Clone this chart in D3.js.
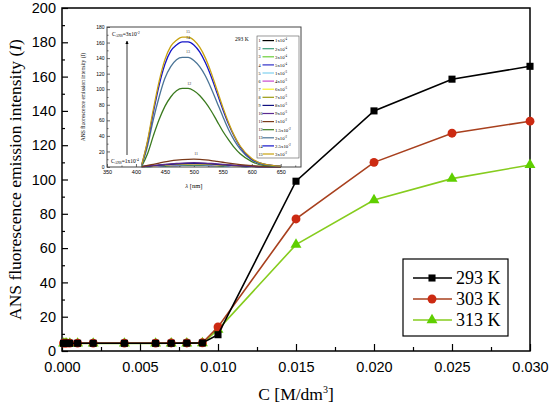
<!DOCTYPE html>
<html>
<head>
<meta charset="utf-8">
<script src="https://cdn.jsdelivr.net/npm/d3@7"></script>
<style>
  body { margin: 0; background: #fff; }
  .tick text { font-family: "Liberation Sans", Arial, sans-serif; }
</style>
</head>
<body>
<div id="chart"></div>
<script>
// ---- main chart data ----
var conc = [0.0001, 0.0002, 0.0003, 0.0005, 0.001, 0.002, 0.004, 0.006, 0.007, 0.008, 0.009, 0.010, 0.015, 0.020, 0.025, 0.030];
var temps = ["293 K", "303 K", "313 K"];
var int293 = [4.5, 4.5, 4.5, 4.5, 4.5, 4.5, 4.5, 4.5, 4.5, 4.6, 4.7, 9.5, 99, 140, 158.5, 166];
var int303 = [4.6, 4.6, 4.6, 4.6, 4.6, 4.6, 4.6, 4.6, 4.7, 4.7, 4.8, 14, 77, 110, 127, 134];
var int313 = [4.4, 4.4, 4.4, 4.4, 4.4, 4.4, 4.4, 4.4, 4.5, 4.5, 4.6, 12.5, 62, 88, 100.5, 108.5];
var yTicks = [0, 20, 40, 60, 80, 100, 120, 140, 160, 180, 200];
var xTicks = [0, 0.005, 0.010, 0.015, 0.020, 0.025, 0.030];

// ---- inset spectra data (293 K) ----
var wl = [410, 420, 430, 440, 450, 460, 470, 480, 490, 500, 510, 520, 530, 540, 550, 560, 570, 580, 600, 620, 650];
var spec1  = [0.2, 0.5, 0.8, 1.1, 1.4, 1.7, 1.9, 2.1, 2.2, 2.3, 2.2, 2.1, 1.9, 1.7, 1.4, 1.2, 0.9, 0.7, 0.4, 0.2, 0.1];
var spec2  = [0.2, 0.6, 0.9, 1.2, 1.6, 1.9, 2.1, 2.3, 2.5, 2.5, 2.5, 2.3, 2.1, 1.8, 1.6, 1.3, 1.0, 0.8, 0.4, 0.2, 0.1];
var spec3  = [0.3, 0.6, 1.0, 1.4, 1.8, 2.1, 2.4, 2.6, 2.8, 2.8, 2.8, 2.6, 2.3, 2.0, 1.7, 1.4, 1.1, 0.9, 0.5, 0.2, 0.1];
var spec4  = [0.3, 0.7, 1.1, 1.5, 1.9, 2.3, 2.6, 2.9, 3.0, 3.1, 3.0, 2.8, 2.6, 2.3, 1.9, 1.6, 1.2, 0.9, 0.5, 0.2, 0.1];
var spec5  = [0.3, 0.7, 1.2, 1.7, 2.1, 2.5, 2.9, 3.1, 3.3, 3.4, 3.3, 3.1, 2.8, 2.5, 2.1, 1.7, 1.3, 1.0, 0.5, 0.2, 0.1];
var spec6  = [0.3, 0.8, 1.3, 1.8, 2.3, 2.8, 3.1, 3.4, 3.6, 3.7, 3.6, 3.4, 3.1, 2.7, 2.3, 1.9, 1.5, 1.1, 0.6, 0.3, 0.1];
var spec7  = [0.4, 0.9, 1.4, 2.0, 2.5, 3.0, 3.4, 3.7, 3.9, 4.0, 3.9, 3.7, 3.3, 2.9, 2.5, 2.0, 1.6, 1.2, 0.6, 0.3, 0.1];
var spec8  = [0.4, 0.9, 1.5, 2.1, 2.7, 3.2, 3.6, 4.0, 4.2, 4.3, 4.2, 3.9, 3.6, 3.1, 2.7, 2.2, 1.7, 1.3, 0.7, 0.3, 0.1];
var spec9  = [0.4, 1.0, 1.7, 2.3, 2.9, 3.5, 4.0, 4.4, 4.6, 4.7, 4.6, 4.3, 3.9, 3.4, 2.9, 2.4, 1.9, 1.4, 0.7, 0.3, 0.1];
var spec10 = [0.5, 1.2, 2.0, 2.7, 3.4, 4.1, 4.7, 5.1, 5.4, 5.5, 5.4, 5.1, 4.6, 4.0, 3.4, 2.8, 2.2, 1.7, 0.9, 0.4, 0.1];
var spec11 = [0.6, 2.0, 3.5, 5.0, 6.5, 7.8, 8.8, 9.5, 9.9, 10.0, 9.7, 9.1, 8.3, 7.2, 6.1, 5.0, 4.0, 3.1, 1.7, 0.8, 0.3];
var spec12 = [1.0, 17, 40, 61, 78, 90, 98, 101, 101, 98, 92, 83, 72, 59, 46, 35, 25, 17, 7, 2, 0.5];
var spec13 = [2.0, 27, 61, 90, 114, 129, 138, 141, 141, 137, 129, 117, 101, 83, 65, 48, 34, 23, 9, 3, 1];
var spec14 = [3.0, 32, 70, 105, 132, 149, 157, 161, 161, 157, 148, 134, 116, 95, 74, 55, 39, 26, 10, 4, 1];
var spec15 = [3.0, 34, 74, 110, 138, 155, 163, 167, 167, 163, 154, 140, 121, 99, 77, 57, 40, 27, 11, 4, 1];
var specLabels = ["1x10|-4", "2x10|-4", "3x10|-4", "5x10|-4", "1x10|-3", "4x10|-3", "6x10|-3", "7x10|-3", "8x10|-3", "9x10|-3", "1x10|-2", "1.5x10|-2", "2x10|-2", "2.5x10|-2", "3x10|-2"];
var insetYTicks = [0, 20, 40, 60, 80, 100, 120, 140, 160, 180];
var insetXTicks = [350, 400, 450, 500, 550, 600, 650];

var svgWidth = 550;
var svgHeight = 410;

var margin = { top: 8, right: 20, bottom: 59, left: 62 };
var width  = svgWidth  - margin.left - margin.right;
var height = svgHeight - margin.top  - margin.bottom;

var serif = "'Liberation Serif', 'Times New Roman', serif";

var svg = d3.select("#chart")
  .append("svg")
  .attr("width", svgWidth)
  .attr("height", svgHeight)
  .style("background", "#fff");

var chartGroup = svg.append("g")
  .attr("transform", `translate(${margin.left}, ${margin.top})`);

var xScale = d3.scaleLinear().domain([0, 0.030]).range([0, width]);
var yScale = d3.scaleLinear().domain([0, 200]).range([height, 0]);

// minor ticks (inward)
chartGroup.append("g")
  .call(d3.axisLeft(yScale).tickValues(d3.range(10, 200, 20)).tickSize(-3).tickFormat(""))
  .call(g => g.select(".domain").remove());
chartGroup.append("g")
  .attr("transform", `translate(0, ${height})`)
  .call(d3.axisBottom(xScale).tickValues(d3.range(0.0025, 0.030, 0.005)).tickSize(-4).tickFormat(""))
  .call(g => g.select(".domain").remove());

// major axes
var leftAxis = d3.axisLeft(yScale).tickValues(yTicks).tickSize(-6).tickSizeOuter(0).tickPadding(6);
chartGroup.append("g")
  .call(leftAxis)
  .call(g => g.select(".domain").remove())
  .selectAll("text").attr("font-size", "14.5px").attr("fill", "#000");

var bottomAxis = d3.axisBottom(xScale).tickValues(xTicks).tickSize(-7).tickSizeOuter(0)
  .tickPadding(11).tickFormat(d3.format(".3f"));
chartGroup.append("g")
  .attr("transform", `translate(0, ${height})`)
  .call(bottomAxis)
  .call(g => g.select(".domain").remove())
  .selectAll("text").attr("font-size", "14.5px").attr("fill", "#000");

chartGroup.selectAll(".tick line").attr("stroke", "#000").attr("stroke-width", 1.2);

// frame
chartGroup.append("rect")
  .attr("width", width).attr("height", height)
  .attr("fill", "none").attr("stroke", "#000").attr("stroke-width", 1.5);

// axis titles
svg.append("text")
  .attr("transform", `translate(21, ${margin.top + height / 2}) rotate(-90)`)
  .attr("text-anchor", "middle")
  .attr("font-family", serif)
  .attr("font-size", "17.5px")
  .html("ANS fluorescence emission intensity (<tspan font-style='italic'>I</tspan>)");

svg.append("text")
  .attr("x", margin.left + width / 2).attr("y", 400)
  .attr("text-anchor", "middle")
  .attr("font-family", serif)
  .attr("font-size", "17.5px")
  .html("C [M/dm<tspan font-size='10px' dy='-7'>3</tspan><tspan dy='7'>]</tspan>");

// ---- series ----
var series = [
  { name: temps[0], values: int293, line: "#000000", fill: "#000000", shape: d3.symbolSquare, size: 50 },
  { name: temps[1], values: int303, line: "#a8401e", fill: "#cc2a12", shape: d3.symbolCircle, size: 62 },
  { name: temps[2], values: int313, line: "#86cc1e", fill: "#5fcf00", shape: d3.symbolTriangle, size: 52 }
];

var lineGen = d3.line()
  .x((d, i) => xScale(conc[i]))
  .y(d => yScale(d));

series.slice().reverse().forEach(function(s) {
  chartGroup.append("path")
    .datum(s.values)
    .attr("d", lineGen)
    .attr("fill", "none")
    .attr("stroke", s.line)
    .attr("stroke-width", 1.6);

  chartGroup.selectAll(null)
    .data(s.values)
    .enter()
    .append("path")
    .attr("transform", (d, i) => `translate(${xScale(conc[i])}, ${yScale(d)})`)
    .attr("d", d3.symbol().type(s.shape).size(s.size))
    .attr("fill", s.fill);
});

// legend
var legend = svg.append("g");
legend.append("rect")
  .attr("x", 403).attr("y", 259).attr("width", 105).attr("height", 77)
  .attr("fill", "#fff").attr("stroke", "#000").attr("stroke-width", 1.2);

series.forEach(function(s, i) {
  var ly = 278 + i * 21;
  legend.append("line")
    .attr("x1", 413).attr("x2", 452).attr("y1", ly).attr("y2", ly)
    .attr("stroke", s.line).attr("stroke-width", 1.6);
  legend.append("path")
    .attr("transform", `translate(432, ${ly})`)
    .attr("d", d3.symbol().type(s.shape).size(s.size))
    .attr("fill", s.fill);
  legend.append("text")
    .attr("x", 456).attr("y", ly + 6)
    .attr("font-family", serif)
    .attr("font-size", "18px")
    .text(s.name);
});

// ---- inset ----
var inset = { left: 107, top: 27, width: 194, height: 140 };
var insetGroup = svg.append("g")
  .attr("transform", `translate(${inset.left}, ${inset.top})`);

var ix = d3.scaleLinear().domain([350, 685]).range([0, inset.width]);
var iy = d3.scaleLinear().domain([0, 180]).range([inset.height, 0]);

insetGroup.append("g")
  .call(d3.axisLeft(iy).tickValues(d3.range(10, 180, 20)).tickSize(-1.5).tickFormat(""))
  .call(g => g.select(".domain").remove());
insetGroup.append("g")
  .attr("transform", `translate(0, ${inset.height})`)
  .call(d3.axisBottom(ix).tickValues(d3.range(375, 680, 50)).tickSize(-1.5).tickFormat(""))
  .call(g => g.select(".domain").remove());

insetGroup.append("g")
  .call(d3.axisLeft(iy).tickValues(insetYTicks).tickSize(-3).tickPadding(2.5).tickSizeOuter(0))
  .call(g => g.select(".domain").remove())
  .selectAll("text").attr("font-size", "5px").attr("fill", "#000");
insetGroup.append("g")
  .attr("transform", `translate(0, ${inset.height})`)
  .call(d3.axisBottom(ix).tickValues(insetXTicks).tickSize(-3).tickPadding(3.5).tickSizeOuter(0))
  .call(g => g.select(".domain").remove())
  .selectAll("text").attr("font-size", "5.5px").attr("fill", "#000");
insetGroup.selectAll(".tick line").attr("stroke", "#000").attr("stroke-width", 0.6);

insetGroup.append("rect")
  .attr("width", inset.width).attr("height", inset.height)
  .attr("fill", "none").attr("stroke", "#444").attr("stroke-width", 1);

var specs = [spec1, spec2, spec3, spec4, spec5, spec6, spec7, spec8, spec9, spec10, spec11, spec12, spec13, spec14, spec15];
var specColors = ["#000000", "#3a9e7a", "#6ccf3a", "#3030c8", "#7fd0ee", "#c84ad0", "#f4f030", "#9a9a10", "#101080", "#5a2a90", "#7a3a1a", "#3a7a1e", "#4a7496", "#1414c8", "#c8a210"];

var specLine = d3.line()
  .x((d, i) => ix(wl[i]))
  .y(d => iy(d))
  .curve(d3.curveMonotoneX);

specs.forEach(function(sp, k) {
  insetGroup.append("path")
    .datum(sp)
    .attr("d", specLine)
    .attr("fill", "none")
    .attr("stroke", specColors[k])
    .attr("stroke-width", 1.3);
});

// peak numbers
[[490, 172, "15"], [490, 165, "14"], [490, 146, "13"], [492, 106, "12"], [504, 15, "11"]].forEach(function(p) {
  insetGroup.append("text")
    .attr("x", ix(p[0])).attr("y", iy(p[1]))
    .attr("text-anchor", "middle")
    .attr("font-family", serif)
    .attr("font-size", "4px")
    .attr("fill", "#333")
    .text(p[2]);
});

// inset legend
var ilg = insetGroup.append("g").attr("transform", "translate(150, 9)");
ilg.append("rect")
  .attr("width", 42).attr("height", 122)
  .attr("fill", "#fff").attr("stroke", "#555").attr("stroke-width", 0.6);
specLabels.forEach(function(lab, k) {
  var ry = 4.6 + k * 8.1;
  var parts = lab.split("|");
  ilg.append("text")
    .attr("x", 1.5).attr("y", ry + 1.6)
    .attr("font-family", serif)
    .attr("font-size", "4.2px")
    .text(k + 1);
  ilg.append("line")
    .attr("x1", 5.5).attr("x2", 17).attr("y1", ry).attr("y2", ry)
    .attr("stroke", specColors[k]).attr("stroke-width", 1.2);
  ilg.append("text")
    .attr("x", 18).attr("y", ry + 1.8)
    .attr("font-family", serif)
    .attr("font-size", "4.8px")
    .html(`${parts[0]}<tspan font-size="3px" dy="-2">${parts[1]}</tspan>`);
});

// inset annotations
insetGroup.append("text")
  .attr("x", 128).attr("y", 14)
  .attr("font-family", serif)
  .attr("font-size", "5.5px")
  .text("293 K");

insetGroup.append("text")
  .attr("x", 5).attr("y", 8.5)
  .attr("font-family", serif).attr("font-size", "5.5px")
  .html("C<tspan font-size='3.5px' dy='1.5'>ANS</tspan><tspan dy='-1.5'>=3x10</tspan><tspan font-size='3.5px' dy='-2'>-2</tspan>");
insetGroup.append("text")
  .attr("x", 4).attr("y", 135.5)
  .attr("font-family", serif).attr("font-size", "5.5px")
  .html("C<tspan font-size='3.5px' dy='1.5'>ANS</tspan><tspan dy='-1.5'>=1x10</tspan><tspan font-size='3.5px' dy='-2'>-4</tspan>");

var defs = svg.append("defs");
defs.append("marker")
  .attr("id", "arrow")
  .attr("viewBox", "0 0 10 10")
  .attr("refX", 9).attr("refY", 5)
  .attr("markerWidth", 4).attr("markerHeight", 5)
  .attr("orient", "auto")
  .append("path")
  .attr("d", "M0,0 L10,5 L0,10 z")
  .attr("fill", "#000");

insetGroup.append("line")
  .attr("x1", 20).attr("x2", 20).attr("y1", 128).attr("y2", 14)
  .attr("stroke", "#000").attr("stroke-width", 0.8)
  .attr("marker-end", "url(#arrow)");

svg.append("text")
  .attr("transform", `translate(${inset.left - 22}, ${inset.top + inset.height / 2}) rotate(-90)`)
  .attr("text-anchor", "middle")
  .attr("font-family", serif)
  .attr("font-size", "5.5px")
  .html("ANS fluorescence emission intensity (<tspan font-style='italic'>I</tspan>)");

svg.append("text")
  .attr("x", inset.left + ix(500)).attr("y", inset.top + inset.height + 21)
  .attr("text-anchor", "middle")
  .attr("font-family", serif)
  .attr("font-size", "6.5px")
  .html("<tspan font-style='italic'>λ</tspan> [nm]");
</script>
</body>
</html>
